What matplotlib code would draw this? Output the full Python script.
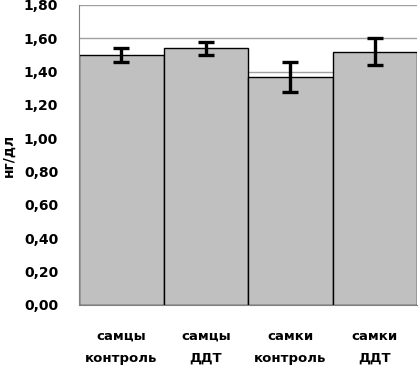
import matplotlib
matplotlib.use("Agg")
import matplotlib.pyplot as plt
from matplotlib.ticker import FuncFormatter

categories = ["самцы\nконтроль", "самцы\nДДТ", "самки\nконтроль", "самки\nДДТ"]
values = [1.50, 1.54, 1.37, 1.52]
errors = [0.04, 0.04, 0.09, 0.08]

fig = plt.figure(figsize=(4.19, 3.69), dpi=100)
ax = fig.add_axes([79/419, 1-305/369, (417-79)/419, 300/369])

x = list(range(len(categories)))
ax.bar(x, values, width=1.0, color="#c0c0c0", edgecolor="black", linewidth=1.0, zorder=2)
ax.errorbar(x, values, yerr=errors, fmt="none", ecolor="black", elinewidth=2.4,
            capsize=6, capthick=2.4, zorder=3)

ax.set_xlim(-0.5, 3.5)
ax.set_ylim(0, 1.8)
ax.set_yticks([i*0.2 for i in range(10)])
ax.yaxis.set_major_formatter(FuncFormatter(lambda v, p: f"{v:.2f}".replace(".", ",")))
ax.grid(axis="y", color="#a0a0a0", linewidth=1.0, zorder=0)
ax.set_axisbelow(True)
for s in ["top", "right"]:
    ax.spines[s].set_visible(False)
ax.spines["left"].set_color("#808080")
ax.spines["bottom"].set_color("#808080")
ax.tick_params(axis="y", length=0, pad=15, labelsize=10)
ax.tick_params(axis="x", length=0, pad=18, labelsize=9.5)
ax.set_xticks(x)
ax.set_xticklabels(categories, fontweight="bold", linespacing=1.9)
for lab in ax.get_yticklabels():
    lab.set_fontweight("bold")
ax.set_ylabel("нг/дл", fontweight="bold", fontsize=10, labelpad=6)

fig.savefig("out.png", dpi=100)
